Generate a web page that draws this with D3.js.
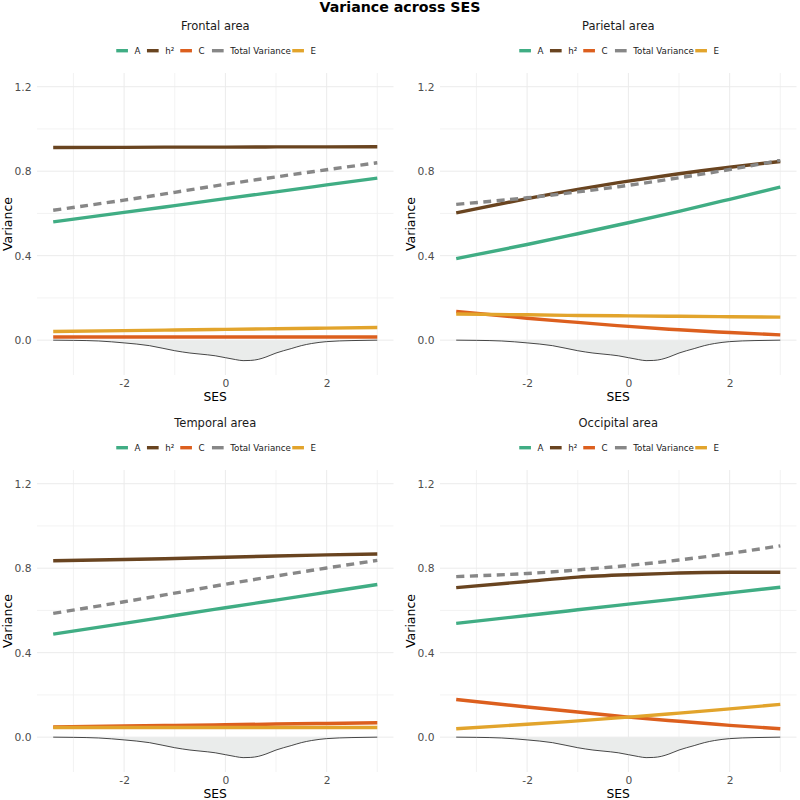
<!DOCTYPE html>
<html>
<head>
<meta charset="utf-8">
<script src="https://cdn.jsdelivr.net/npm/d3@7/dist/d3.min.js"></script>
<style>
  html, body { margin: 0; padding: 0; background: #fff; }
  svg { display: block; font-family: "DejaVu Sans", sans-serif; }
</style>
</head>
<body>
<svg id="chart" width="800" height="800"></svg>
<script>
// ---------- data ----------
const chartTitle = "Variance across SES";
const panelNames = ["Frontal area", "Parietal area", "Temporal area", "Occipital area"];
const seriesNames = ["A", "h²", "C", "Total Variance", "E"];
const seriesColors = ["#40ad84", "#694420", "#dc5f1e", "#878787", "#e2a42c"];

const ses = [-3.4, -2, -1, 0, 1, 2, 3];

// Frontal
const frontalA     = [0.560, 0.605, 0.637, 0.670, 0.702, 0.735, 0.767];
const frontalH2    = [0.912, 0.913, 0.914, 0.914, 0.915, 0.915, 0.916];
const frontalC     = [0.015, 0.015, 0.015, 0.015, 0.015, 0.015, 0.015];
const frontalTotal = [0.615, 0.663, 0.700, 0.738, 0.773, 0.807, 0.840];
const frontalE     = [0.041, 0.045, 0.048, 0.051, 0.054, 0.057, 0.060];
// Parietal
const parietalA     = [0.386, 0.453, 0.504, 0.556, 0.610, 0.667, 0.725];
const parietalH2    = [0.603, 0.670, 0.714, 0.753, 0.788, 0.819, 0.846];
const parietalC     = [0.136, 0.104, 0.084, 0.065, 0.049, 0.036, 0.025];
const parietalTotal = [0.643, 0.674, 0.702, 0.733, 0.769, 0.808, 0.852];
const parietalE     = [0.124, 0.120, 0.117, 0.115, 0.113, 0.111, 0.109];
// Temporal
const temporalA     = [0.488, 0.539, 0.576, 0.613, 0.649, 0.686, 0.723];
const temporalH2    = [0.835, 0.841, 0.846, 0.852, 0.858, 0.863, 0.867];
const temporalC     = [0.048, 0.053, 0.056, 0.059, 0.062, 0.065, 0.068];
const temporalTotal = [0.586, 0.641, 0.682, 0.724, 0.763, 0.801, 0.837];
const temporalE     = [0.046, 0.046, 0.046, 0.046, 0.046, 0.046, 0.046];
// Occipital
const occipitalA     = [0.539, 0.576, 0.603, 0.630, 0.656, 0.683, 0.710];
const occipitalH2    = [0.708, 0.737, 0.758, 0.769, 0.777, 0.781, 0.781];
const occipitalC     = [0.178, 0.143, 0.119, 0.095, 0.075, 0.056, 0.040];
const occipitalTotal = [0.760, 0.775, 0.792, 0.813, 0.839, 0.870, 0.906];
const occipitalE     = [0.040, 0.061, 0.077, 0.095, 0.114, 0.134, 0.155];

// SES density (drawn downward below zero)
const densityX = [-3.4, -3, -2.5, -2, -1.5, -1, -0.7, -0.5, -0.2, 0, 0.2, 0.35, 0.5, 0.65, 0.8, 1, 1.3, 1.5, 1.7, 2, 2.5, 3];
const densityY = [0, -0.001, -0.004, -0.013, -0.026, -0.050, -0.061, -0.066, -0.074, -0.083, -0.092, -0.097, -0.096, -0.091, -0.080, -0.061, -0.040, -0.026, -0.016, -0.007, -0.002, 0];

const xTicks = [-2, 0, 2];
const xTickLabels = ["-2", "0", "2"];
const xMinorTicks = [-3, -1, 1, 3];
const yTicks = [0, 0.4, 0.8, 1.2];
const yTickLabels = ["0.0", "0.4", "0.8", "1.2"];
const yMinorTicks = [0.2, 0.6, 1.0];
const yLimits = [-0.1, 1.2];
const xLabel = "SES";
const yLabel = "Variance";

const panelSeries = [
  [frontalA, frontalH2, frontalC, frontalTotal, frontalE],
  [parietalA, parietalH2, parietalC, parietalTotal, parietalE],
  [temporalA, temporalH2, temporalC, temporalTotal, temporalE],
  [occipitalA, occipitalH2, occipitalC, occipitalTotal, occipitalE]
];

// ---------- layout ----------
const svg = d3.select("#chart");
const panelLeft = [37, 440];
const panelTop = [73, 470];
const panelW = 356.5, panelH = 302;

svg.append("text")
  .attr("x", 400).attr("y", 12)
  .attr("text-anchor", "middle")
  .attr("font-size", 14.2).attr("font-weight", "bold").attr("fill", "#000")
  .text(chartTitle);

const xExt = d3.extent(ses);
const xPad = (xExt[1] - xExt[0]) * 0.05;
const yPad = (yLimits[1] - yLimits[0]) * 0.05;

const legendKeyOffsets = [-99, -68.3, -35, -3.3, 77];

panelNames.forEach((name, i) => {
  const col = i % 2, row = Math.floor(i / 2);
  const L = panelLeft[col], T = panelTop[row];
  const x = d3.scaleLinear().domain([xExt[0] - xPad, xExt[1] + xPad]).range([L, L + panelW]);
  const y = d3.scaleLinear().domain([yLimits[0] - yPad, yLimits[1] + yPad]).range([T + panelH, T]);
  const g = svg.append("g");
  const cx = L + panelW / 2;

  // grid
  g.selectAll(".vminor").data(xMinorTicks).join("line")
    .attr("x1", d => x(d)).attr("x2", d => x(d)).attr("y1", T).attr("y2", T + panelH)
    .attr("stroke", "#f0f0f0").attr("stroke-width", 0.8);
  g.selectAll(".hminor").data(yMinorTicks).join("line")
    .attr("y1", d => y(d)).attr("y2", d => y(d)).attr("x1", L).attr("x2", L + panelW)
    .attr("stroke", "#f0f0f0").attr("stroke-width", 0.8);
  g.selectAll(".vmajor").data(xTicks).join("line")
    .attr("x1", d => x(d)).attr("x2", d => x(d)).attr("y1", T).attr("y2", T + panelH)
    .attr("stroke", "#ebebeb").attr("stroke-width", 1);
  g.selectAll(".hmajor").data(yTicks).join("line")
    .attr("y1", d => y(d)).attr("y2", d => y(d)).attr("x1", L).attr("x2", L + panelW)
    .attr("stroke", "#ebebeb").attr("stroke-width", 1);

  // axes
  const xAxis = d3.axisBottom(x).tickValues(xTicks).tickFormat((d, k) => xTickLabels[k])
    .tickSize(0).tickPadding(4.5);
  const xa = g.append("g").attr("transform", `translate(0,${T + panelH})`).call(xAxis);
  xa.select(".domain").remove();
  xa.selectAll("text").attr("font-size", 10.7).attr("fill", "#4d4d4d").attr("font-family", "DejaVu Sans");

  const yAxis = d3.axisLeft(y).tickValues(yTicks).tickFormat((d, k) => yTickLabels[k])
    .tickSize(0).tickPadding(5.5);
  const ya = g.append("g").attr("transform", `translate(${L},0)`).call(yAxis);
  ya.select(".domain").remove();
  ya.selectAll("text").attr("font-size", 10.7).attr("fill", "#4d4d4d").attr("font-family", "DejaVu Sans");

  // axis titles
  g.append("text").attr("x", cx).attr("y", T + panelH + 25.8)
    .attr("text-anchor", "middle").attr("font-size", 12.3).attr("fill", "#000").text(xLabel);
  g.append("text")
    .attr("transform", `translate(${L - 25.5},${T + panelH / 2}) rotate(-90)`)
    .attr("text-anchor", "middle").attr("font-size", 12.5).attr("fill", "#000").text(yLabel);

  // panel title
  g.append("text").attr("x", cx).attr("y", T - 43)
    .attr("text-anchor", "middle").attr("font-size", 11.5).attr("fill", "#1a1a1a").text(name);

  // legend
  const ly = T - 22.3;
  seriesNames.forEach((s, k) => {
    const kx = cx + legendKeyOffsets[k];
    g.append("line").attr("x1", kx).attr("x2", kx + 11.7).attr("y1", ly).attr("y2", ly)
      .attr("stroke", seriesColors[k]).attr("stroke-width", 3.4);
    g.append("text").attr("x", kx + 18.3).attr("y", ly).attr("dy", "0.35em")
      .attr("font-size", 8.7).attr("fill", "#1a1a1a").text(s);
  });

  // density
  const dens = densityX.map((d, k) => [d, densityY[k]]);
  g.append("path").datum(dens)
    .attr("d", d3.area().x(d => x(d[0])).y0(y(0)).y1(d => y(d[1])).curve(d3.curveMonotoneX))
    .attr("fill", "#eaeceb");
  g.append("path").datum(dens)
    .attr("d", d3.line().x(d => x(d[0])).y(d => y(d[1])).curve(d3.curveMonotoneX))
    .attr("fill", "none").attr("stroke", "#1a1a1a").attr("stroke-width", 0.8);

  // series lines
  const line = d3.line().x(d => x(d[0])).y(d => y(d[1])).curve(d3.curveNatural);
  panelSeries[i].forEach((vals, k) => {
    const pts = ses.map((s, j) => [s, vals[j]]);
    g.append("path").datum(pts).attr("d", line)
      .attr("fill", "none").attr("stroke", seriesColors[k]).attr("stroke-width", 3.4)
      .attr("stroke-dasharray", seriesNames[k] === "Total Variance" ? "8,5.5" : null);
  });
});
</script>
</body>
</html>
